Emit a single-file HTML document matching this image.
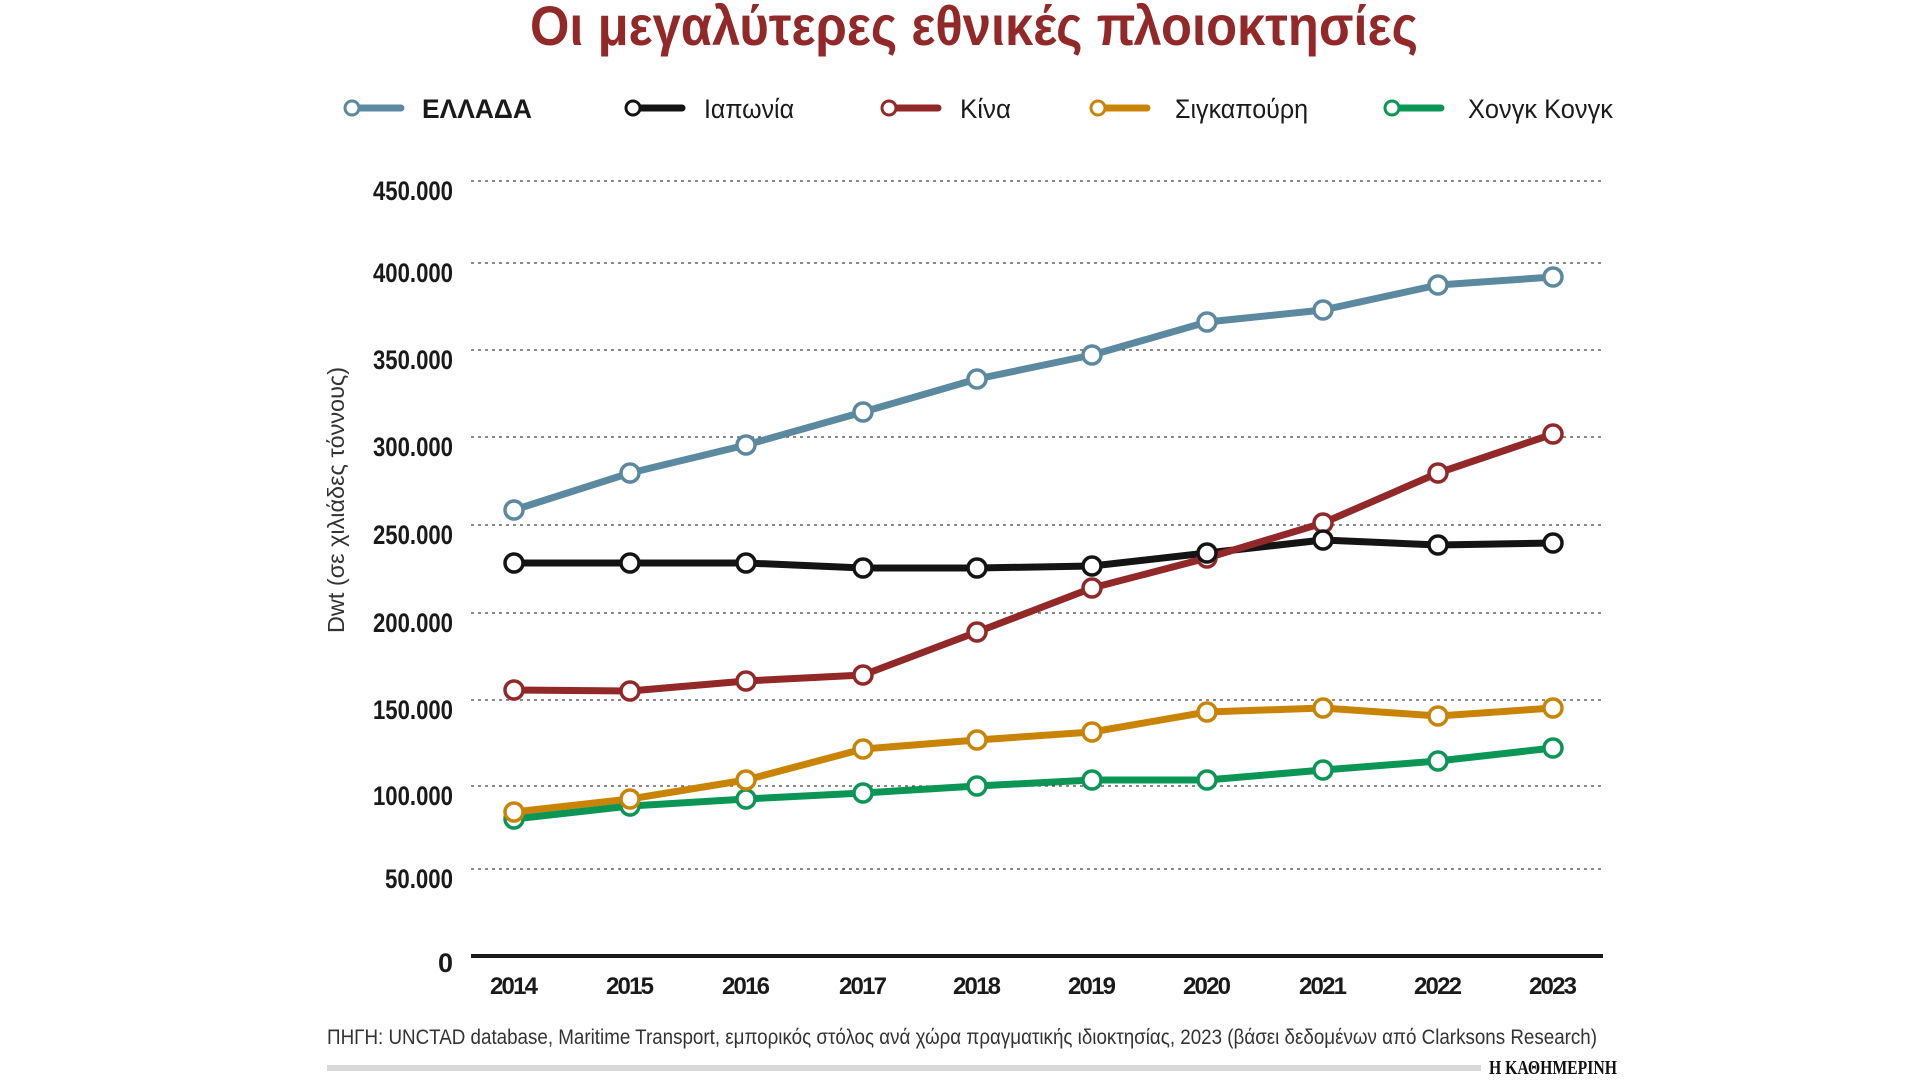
<!DOCTYPE html>
<html><head><meta charset="utf-8">
<style>
html,body{margin:0;padding:0;background:#fff;}
svg{display:block;}
</style></head>
<body>
<svg width="1920" height="1080" viewBox="0 0 1920 1080" xmlns="http://www.w3.org/2000/svg">
<text x="974" y="45" text-anchor="middle" font-family="Liberation Sans, sans-serif" font-weight="bold" font-size="56" fill="#922828" textLength="888" lengthAdjust="spacingAndGlyphs">Οι μεγαλύτερες εθνικές πλοιοκτησίες</text>

<!-- legend -->
<g font-family="Liberation Sans, sans-serif" font-size="27" fill="#1a1a1a" lengthAdjust="spacingAndGlyphs">
<line x1="352" y1="108" x2="401" y2="108" stroke="#5b8aa0" stroke-width="7" stroke-linecap="round"/>
<circle cx="352" cy="108" r="7" fill="#fff" stroke="#5b8aa0" stroke-width="3"/>
<text x="422" y="118" font-weight="bold" textLength="110" lengthAdjust="spacingAndGlyphs">ΕΛΛΑΔΑ</text>
<line x1="633" y1="108" x2="682" y2="108" stroke="#141414" stroke-width="7" stroke-linecap="round"/>
<circle cx="633" cy="108" r="7" fill="#fff" stroke="#141414" stroke-width="3"/>
<text x="704" y="118" textLength="90" lengthAdjust="spacingAndGlyphs">Ιαπωνία</text>
<line x1="889" y1="108" x2="938" y2="108" stroke="#922828" stroke-width="7" stroke-linecap="round"/>
<circle cx="889" cy="108" r="7" fill="#fff" stroke="#922828" stroke-width="3"/>
<text x="960" y="118" textLength="51" lengthAdjust="spacingAndGlyphs">Κίνα</text>
<line x1="1098" y1="108" x2="1147" y2="108" stroke="#c98406" stroke-width="7" stroke-linecap="round"/>
<circle cx="1098" cy="108" r="7" fill="#fff" stroke="#c98406" stroke-width="3"/>
<text x="1175" y="118" textLength="133" lengthAdjust="spacingAndGlyphs">Σιγκαπούρη</text>
<line x1="1392" y1="108" x2="1441" y2="108" stroke="#0b9655" stroke-width="7" stroke-linecap="round"/>
<circle cx="1392" cy="108" r="7" fill="#fff" stroke="#0b9655" stroke-width="3"/>
<text x="1468" y="118" textLength="145" lengthAdjust="spacingAndGlyphs">Χονγκ Κονγκ</text>
</g>

<!-- grid -->
<g stroke="#444" stroke-width="1.3" stroke-dasharray="3,4">
<line x1="471" y1="181" x2="1603" y2="181"/>
<line x1="471" y1="263" x2="1603" y2="263"/>
<line x1="471" y1="350" x2="1603" y2="350"/>
<line x1="471" y1="437" x2="1603" y2="437"/>
<line x1="471" y1="525" x2="1603" y2="525"/>
<line x1="471" y1="613" x2="1603" y2="613"/>
<line x1="471" y1="700" x2="1603" y2="700"/>
<line x1="471" y1="786" x2="1603" y2="786"/>
<line x1="471" y1="869" x2="1603" y2="869"/>
</g>
<line x1="471" y1="956" x2="1603" y2="956" stroke="#1a1a1a" stroke-width="4"/>

<g font-family="Liberation Sans, sans-serif" font-size="27" fill="#1a1a1a" font-weight="bold">
<text x="373" y="200" textLength="80" lengthAdjust="spacingAndGlyphs">450.000</text>
<text x="373" y="282" textLength="80" lengthAdjust="spacingAndGlyphs">400.000</text>
<text x="373" y="369" textLength="80" lengthAdjust="spacingAndGlyphs">350.000</text>
<text x="373" y="456" textLength="80" lengthAdjust="spacingAndGlyphs">300.000</text>
<text x="373" y="544" textLength="80" lengthAdjust="spacingAndGlyphs">250.000</text>
<text x="373" y="632" textLength="80" lengthAdjust="spacingAndGlyphs">200.000</text>
<text x="373" y="719" textLength="80" lengthAdjust="spacingAndGlyphs">150.000</text>
<text x="373" y="805" textLength="80" lengthAdjust="spacingAndGlyphs">100.000</text>
<text x="385" y="888" textLength="68" lengthAdjust="spacingAndGlyphs">50.000</text>
<text x="453" y="972" text-anchor="end">0</text>
</g>
<g font-family="Liberation Sans, sans-serif" font-size="24" fill="#1a1a1a" font-weight="bold" lengthAdjust="spacingAndGlyphs">
<text x="490" y="994" textLength="48">2014</text><text x="606" y="994" textLength="48">2015</text><text x="722" y="994" textLength="48">2016</text>
<text x="839" y="994" textLength="48">2017</text><text x="953" y="994" textLength="48">2018</text><text x="1068" y="994" textLength="48">2019</text>
<text x="1183" y="994" textLength="48">2020</text><text x="1299" y="994" textLength="48">2021</text><text x="1414" y="994" textLength="48">2022</text>
<text x="1529" y="994" textLength="48">2023</text>
</g>
<text transform="translate(344,500) rotate(-90)" text-anchor="middle" font-family="Liberation Sans, sans-serif" font-size="23" fill="#333" textLength="266" lengthAdjust="spacingAndGlyphs">Dwt (σε χιλιάδες τόννους)</text>

<g transform="translate(0,-3)">
<g fill="none" stroke-width="7" stroke-linejoin="round">
<polyline stroke="#5b8aa0" points="514,513 630,476 746,448 863,415 977,382 1092,358 1207,325 1323,313 1438,288 1553,280"/>
<polyline stroke="#141414" points="514,566 630,566 746,566 863,571 977,571 1092,569 1207,556 1323,543 1438,548 1553,546"/>
<polyline stroke="#922828" points="514,693 630,694 746,684 863,678 977,635 1092,591 1207,561 1323,526 1438,476 1553,437"/>
<polyline stroke="#c98406" points="514,815 630,802 746,783 863,752 977,743 1092,735 1207,715 1323,711 1438,719 1553,711"/>
<polyline stroke="#0b9655" points="514,822 630,809 746,802 863,796 977,789 1092,783 1207,783 1323,773 1438,764 1553,751"/>
</g>
<g fill="#fff" stroke-width="3.5">
<g stroke="#5b8aa0"><circle cx="514" cy="513" r="9"/><circle cx="630" cy="476" r="9"/><circle cx="746" cy="448" r="9"/><circle cx="863" cy="415" r="9"/><circle cx="977" cy="382" r="9"/><circle cx="1092" cy="358" r="9"/><circle cx="1207" cy="325" r="9"/><circle cx="1323" cy="313" r="9"/><circle cx="1438" cy="288" r="9"/><circle cx="1553" cy="280" r="9"/></g>
<g stroke="#922828"><circle cx="514" cy="693" r="9"/><circle cx="630" cy="694" r="9"/><circle cx="746" cy="684" r="9"/><circle cx="863" cy="678" r="9"/><circle cx="977" cy="635" r="9"/><circle cx="1092" cy="591" r="9"/><circle cx="1207" cy="561" r="9"/><circle cx="1323" cy="526" r="9"/><circle cx="1438" cy="476" r="9"/><circle cx="1553" cy="437" r="9"/></g>
<g stroke="#141414"><circle cx="514" cy="566" r="9"/><circle cx="630" cy="566" r="9"/><circle cx="746" cy="566" r="9"/><circle cx="863" cy="571" r="9"/><circle cx="977" cy="571" r="9"/><circle cx="1092" cy="569" r="9"/><circle cx="1207" cy="556" r="9"/><circle cx="1323" cy="543" r="9"/><circle cx="1438" cy="548" r="9"/><circle cx="1553" cy="546" r="9"/></g>
<g stroke="#0b9655"><circle cx="514" cy="822" r="9"/><circle cx="630" cy="809" r="9"/><circle cx="746" cy="802" r="9"/><circle cx="863" cy="796" r="9"/><circle cx="977" cy="789" r="9"/><circle cx="1092" cy="783" r="9"/><circle cx="1207" cy="783" r="9"/><circle cx="1323" cy="773" r="9"/><circle cx="1438" cy="764" r="9"/><circle cx="1553" cy="751" r="9"/></g>
<g stroke="#c98406"><circle cx="514" cy="815" r="9"/><circle cx="630" cy="802" r="9"/><circle cx="746" cy="783" r="9"/><circle cx="863" cy="752" r="9"/><circle cx="977" cy="743" r="9"/><circle cx="1092" cy="735" r="9"/><circle cx="1207" cy="715" r="9"/><circle cx="1323" cy="711" r="9"/><circle cx="1438" cy="719" r="9"/><circle cx="1553" cy="711" r="9"/></g>
</g>
</g>

<text x="327" y="1044" font-family="Liberation Sans, sans-serif" font-size="21" fill="#333" textLength="1270" lengthAdjust="spacingAndGlyphs">ΠΗΓΗ: UNCTAD database, Maritime Transport, εμπορικός στόλος ανά χώρα πραγματικής ιδιοκτησίας, 2023 (βάσει δεδομένων από Clarksons Research)</text>
<rect x="327" y="1065" width="1154" height="6" fill="#d9d9d9"/>
<text x="1489" y="1074" font-family="Liberation Serif, serif" font-weight="bold" font-size="20" fill="#111" textLength="128" lengthAdjust="spacingAndGlyphs">Η ΚΑΘΗΜΕΡΙΝΗ</text>
</svg>
</body></html>
